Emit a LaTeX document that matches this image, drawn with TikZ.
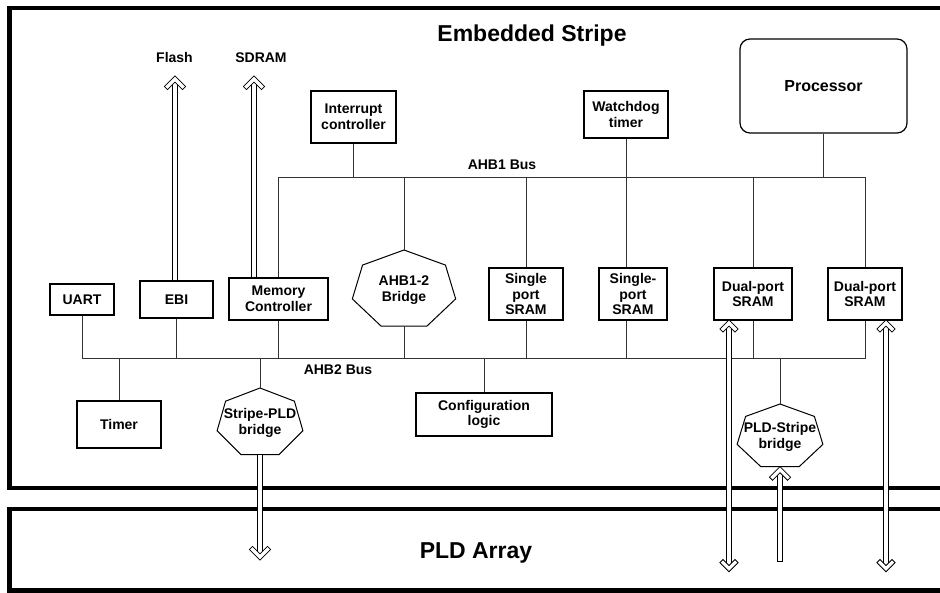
\documentclass[tikz,border=0pt]{standalone}
\usepackage{fontspec}
\setmainfont{Liberation Sans}

\tikzset{
  blk/.style={draw, line width=1.2pt, font=\bfseries\fontsize{14}{15.5}\selectfont, align=center, inner sep=0pt},
  bus/.style={line width=1pt, black!80},
  frame/.style={line width=4.4pt},
  pipe/.style={draw=black, line width=1pt, double=white, double distance=3.2pt},
  head/.pic={\draw[pipe, line join=miter, line cap=rect] (-7.5,10.5) -- (0,3) -- (7.5,10.5);},
  lbl/.style={font=\bfseries\fontsize{14}{16}\selectfont, anchor=base},
  title/.style={font=\bfseries\fontsize{23}{26}\selectfont, anchor=base}
}
% heptagon round a text node: name, x radius, y radius
\newcommand{\hepta}[3]{%
  \draw[line width=1pt, shift={(#1.center)}] (270:#2 and #3)
    \foreach \k in {1,...,6} { -- (270+\k*51.4286:#2 and #3) } -- cycle;
  \path[shift={(#1.center)}] (0,-#3) coordinate (#1-top) (0,{0.901*#3}) coordinate (#1-bot);
}

\begin{document}
\begin{tikzpicture}[x=1pt, y=-1pt]
  \clip (0,0) rectangle (940,593);

  % Outer frames
  \draw[frame] (9.5,8) rectangle (990,488);
  \draw[frame] (9.5,509) rectangle (990,590.5);
  \node[title] (stripe) at (532,42) {Embedded Stripe};
  \node[title] (pld) at (476,558) {PLD Array};

  % External memories
  \node[lbl] (flash) at (174.5,63) {Flash};
  \node[lbl] (sdram) at (261,63) {SDRAM};

  % Blocks on the AHB1 side
  \node[blk, minimum width=85pt, minimum height=52pt] (intc) at (353.5,117) {Interrupt\\controller};
  \node[blk, minimum width=84pt, minimum height=47pt] (wdt) at (626,114.5) {Watchdog\\timer};
  \node[blk, minimum width=167pt, minimum height=94pt, rounded corners=10pt,
        font=\bfseries\fontsize{16}{18}\selectfont] (proc) at (823.5,86) {Processor};
  \node[lbl] (busone) at (502,170) {AHB1 Bus};

  % Blocks between the two buses
  \node[blk, minimum width=64pt, minimum height=31pt] (uart) at (82,299.5) {UART};
  \node[blk, minimum width=73pt, minimum height=37pt] (ebi) at (176.5,299.5) {EBI};
  \node[blk, minimum width=99pt, minimum height=42pt] (memctl) at (278.5,299) {Memory\\Controller};
  \node[blk, draw=none] (brA) at (404,290) {AHB1-2\\Bridge};
  \hepta{brA}{53}{40}
  \node[blk, minimum width=74pt, minimum height=52pt] (sramA) at (526,294) {Single\\port\\SRAM};
  \node[blk, minimum width=68pt, minimum height=52pt] (sramB) at (633,294) {Single-\\port\\SRAM};
  \node[blk, minimum width=78pt, minimum height=52pt] (dpA) at (753,294) {Dual-port\\SRAM};
  \node[blk, minimum width=74pt, minimum height=52pt] (dpB) at (865,294) {Dual-port\\SRAM};

  % Blocks below the AHB2 bus
  \node[lbl] (bustwo) at (338,375) {AHB2 Bus};
  \node[blk, minimum width=84pt, minimum height=47pt] (timer) at (119,424.5) {Timer};
  \node[blk, draw=none] (spb) at (260,423) {Stripe-PLD\\bridge};
  \hepta{spb}{44}{35}
  \node[blk, minimum width=136pt, minimum height=43pt] (cfg) at (484,414.5) {Configuration\\logic};
  \node[blk, draw=none] (psb) at (780,437) {PLD-Stripe\\bridge};
  \hepta{psb}{44}{33}

  % AHB1 bus
  \coordinate (ahbOne) at (0,178);
  \coordinate (ahbTwo) at (0,359);
  \draw[bus] (memctl.north) -- (memctl.north |- ahbOne) -- (dpB.north |- ahbOne) -- (dpB.north);
  \draw[bus] (intc.south) -- (intc.south |- ahbOne);
  \draw[bus] (proc.south) -- (proc.south |- ahbOne);
  \draw[bus] (brA-top) -- (brA-top |- ahbOne);
  \draw[bus] (sramA.north) -- (sramA.north |- ahbOne);
  \draw[bus] (dpA.north) -- (dpA.north |- ahbOne);
  \draw[bus] (wdt.south) -- (wdt.south |- sramB.north);

  % AHB2 bus
  \draw[bus] (uart.south) -- (uart.south |- ahbTwo) -- (dpB.south |- ahbTwo) -- (dpB.south);
  \foreach \n in {ebi, memctl, sramA, dpA}
    \draw[bus] (\n.south) -- (\n.south |- ahbTwo);
  \draw[bus] (brA-bot) -- (brA-bot |- ahbTwo);
  \draw[bus] (sramB.south -| wdt) -- (wdt |- ahbTwo);
  \draw[bus] (timer.north) -- (timer.north |- ahbTwo);
  \draw[bus] (cfg.north) -- (cfg.north |- ahbTwo);
  \draw[bus] (spb-top) -- (spb-top |- ahbTwo);
  \draw[bus] (psb-top) -- (psb-top |- ahbTwo);

  % Wide data paths
  \coordinate (flashEnd) at (175,76);
  \coordinate (sdramEnd) at (254,76);
  \coordinate (spbEnd) at (260,560);
  \coordinate (psbEnd) at (780,560);
  \coordinate (dpAio) at (729,571);
  \coordinate (dpBio) at (886,571);
  \draw[pipe, shorten >=5pt] (ebi.north -| flashEnd) -- (flashEnd);
  \draw[pipe, shorten >=5pt] (memctl.north -| sdramEnd) -- (sdramEnd);
  \draw[pipe, shorten >=5pt] (spb-bot) -- (spbEnd);
  \draw[pipe, line cap=rect, shorten <=1pt, shorten >=5pt] (psbEnd) -- (psb-bot);
  \draw[pipe, shorten <=5pt, shorten >=5pt] (dpA.south -| dpAio) -- (dpAio);
  \draw[pipe, shorten <=5pt, shorten >=5pt] (dpB.south -| dpBio) -- (dpBio);
  \pic at (flashEnd) {head};
  \pic at (sdramEnd) {head};
  \pic[rotate=180] at (spbEnd) {head};
  \pic at (psb-bot) {head};
  \foreach \n in {dpA, dpB} {
    \pic[scale=0.8] at (\n.south -| \n io) {head};
    \pic[scale=0.8, rotate=180] at (\n io) {head};
  }
\end{tikzpicture}
\end{document}
